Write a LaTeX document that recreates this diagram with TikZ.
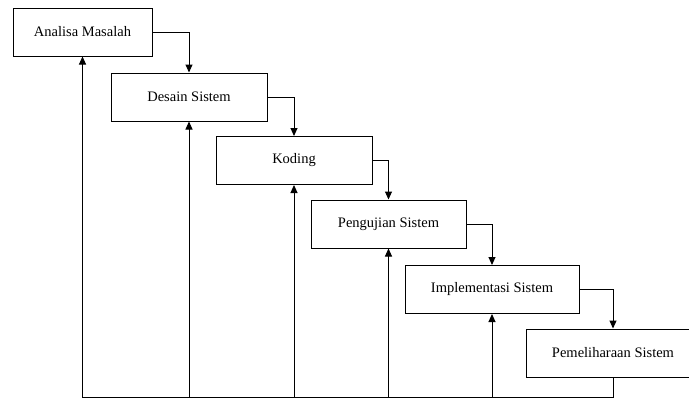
\documentclass[tikz,border=0pt]{standalone}
\usepackage{fontspec}
\setmainfont{Liberation Serif}
\usetikzlibrary{arrows.meta}
\begin{document}
\begin{tikzpicture}[x=1pt,y=-1pt,
  phase/.style={draw=black,line width=1pt,fill=white,inner sep=0pt,
    minimum height=48pt,font=\fontsize{14.5}{17}\selectfont},
  arr/.style={draw=black,line width=1pt,-{Triangle[length=8pt,width=7pt]}},
  ln/.style={draw=black,line width=1pt}]
\useasboundingbox (0,0) rectangle (689,399);
\clip (0,0) rectangle (689,399);
\node[phase,minimum width=139pt] (b1) at (82.5,32) {Analisa Masalah};
\node[phase,minimum width=156pt] (b2) at (189,97) {Desain Sistem};
\node[phase,minimum width=156pt] (b3) at (294,160.5) {Koding};
\node[phase,minimum width=155pt] (b4) at (388.5,224) {Pengujian Sistem};
\node[phase,minimum width=174pt] (b5) at (492,289.5) {Implementasi Sistem};
\node[phase,minimum width=174pt] (b6) at (613,353) {Pemeliharaan Sistem};
\coordinate (base) at (0,397.5);
\draw[arr] (b1.east) -| (b2.north);
\draw[arr] (b2.east) -| (b3.north);
\draw[arr] (b3.east) -| (b4.north);
\draw[arr] (b4.east) -| (b5.north);
\draw[arr] (b5.east) -| (b6.north);
\draw[arr] (b6.south) -- (b6.south |- base) -- (b1.south |- base) -- (b1.south);
\draw[arr] (b2.south |- base) -- (b2.south);
\draw[arr] (b3.south |- base) -- (b3.south);
\draw[arr] (b4.south |- base) -- (b4.south);
\draw[arr] (b5.south |- base) -- (b5.south);
\end{tikzpicture}
\end{document}
